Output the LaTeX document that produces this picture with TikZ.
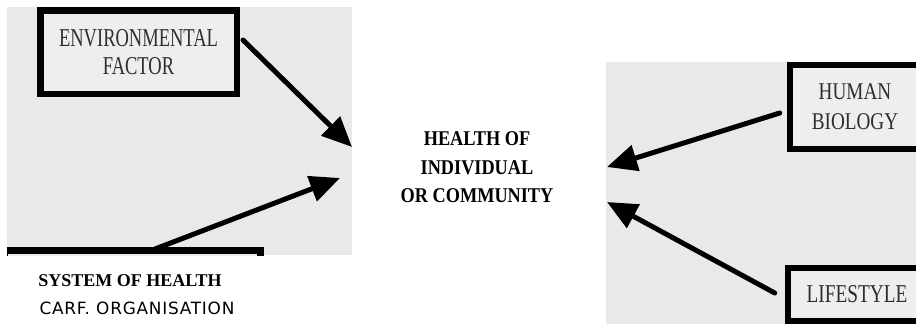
\documentclass[tikz,border=0pt]{standalone}
\usepackage{fontspec}
\setmainfont{Liberation Serif}
\newfontfamily\envfont[FakeStretch=0.72]{Liberation Serif}
\newfontfamily\humfont[FakeStretch=0.80]{Liberation Serif}
\newfontfamily\lifefont[FakeStretch=0.75]{Liberation Serif}
\newfontfamily\midfont[FakeStretch=0.87]{Liberation Serif}
\newfontfamily\carffont[LetterSpace=4.5]{DejaVu Sans}
\usetikzlibrary{arrows.meta,calc}
\definecolor{scan}{HTML}{E9E9E9}
\definecolor{boxfill}{HTML}{EEEEEE}
\definecolor{scanink}{HTML}{2E2E2E}
\begin{document}
\begin{tikzpicture}[x=1pt,y=-1pt,
  framebox/.style={draw=black, line width=6.5pt, fill=boxfill, text=scanink, align=center, inner sep=0pt},
  bigarrow/.style={draw=black, line width=5pt, line cap=round, -{Triangle[length=30pt,width=26pt]}},
  plainlabel/.style={inner sep=0pt, text=black},
]
\useasboundingbox (0,0) rectangle (916,324);
\clip (0,0) rectangle (916,324);
% scanned panels
\fill[scan] (7,7) rectangle (352,255);
\fill[scan] (606,62) rectangle (916,324);

% boxes
\node[framebox, minimum width=196.5pt, minimum height=83.5pt,
      font=\envfont\fontsize{25.7}{28}\selectfont] (env) at (138.5,52) {ENVIRONMENTAL\\FACTOR};
\begin{scope}
  \clip (7,7) rectangle (352,255);
  \node[framebox, line width=7pt, minimum width=256pt, minimum height=79pt] (sys) at (132,290) {};
\end{scope}
\node[framebox, minimum width=130pt, minimum height=84pt,
      font=\humfont\fontsize{24}{30}\selectfont] (hum) at (855,107) {HUMAN\\BIOLOGY};
\node[framebox, minimum width=138pt, minimum height=53pt,
      font=\lifefont\fontsize{25.7}{28}\selectfont] (life) at (857,294.5) {LIFESTYLE};

% centre text
\node[plainlabel, align=center, font=\midfont\bfseries\fontsize{21}{28.5}\selectfont]
      (health) at (477,167.5) {HEALTH OF\\INDIVIDUAL\\OR COMMUNITY};

% labels below left panel
\node[plainlabel, anchor=base, font=\bfseries\fontsize{18}{20}\selectfont] (syslabel) at (130,286) {SYSTEM OF HEALTH};
\node[plainlabel, anchor=base, font=\carffont\fontsize{16.9}{20}\selectfont] (carf) at (137,314) {CARF. ORGANISATION};

% arrow tips
\coordinate (t1) at (352,147);
\coordinate (t2) at (340,178);
\coordinate (t3) at (607,167);
\coordinate (t4) at (607,202);

\draw[bigarrow] ([shift={(3,-12)}]env.east) -- (t1);
\draw[bigarrow] ([shift={(23,2)}]sys.north) -- (t2);
\draw[bigarrow] ([shift={(-7,6)}]hum.west) -- (t3);
\draw[bigarrow] ([shift={(-10,-1.5)}]life.west) -- (t4);
\end{tikzpicture}
\end{document}
